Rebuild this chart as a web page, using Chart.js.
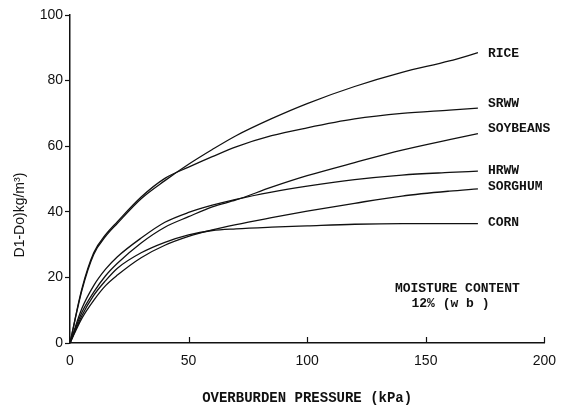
<!DOCTYPE html>
<html>
<head>
<meta charset="utf-8">
<script src="https://cdn.jsdelivr.net/npm/chart.js@4.4.1/dist/chart.umd.min.js"></script>
<style>
  html, body { margin: 0; padding: 0; background: #ffffff; }
  #wrap { width: 566px; height: 407px; position: relative; }
</style>
</head>
<body>
<div id="wrap"><canvas id="c" width="566" height="407"></canvas></div>
<script>
// ---- data ----
const pressure = [0, 5, 10, 15, 20, 30, 40, 50, 60, 70, 85, 100, 120, 140, 160, 172];
const rice     = [0, 16, 27, 32.5, 36.5, 44, 49.5, 54.5, 59, 63.2, 68.4, 73, 78.2, 82.5, 86, 88.5];
const srww     = [0, 16.5, 27.5, 33, 37, 44.5, 50.2, 53.6, 56.8, 59.8, 63.2, 65.6, 68.3, 70, 71, 71.6];
const soybeans = [0, 9.3, 15.5, 20.5, 24.3, 30.5, 35.3, 38.5, 41.5, 43.6, 47.5, 51, 55, 58.8, 62, 63.8];
const hrww     = [0, 10.5, 17.5, 22.5, 26.3, 32, 36.8, 39.8, 42, 43.8, 46, 47.8, 49.8, 51.2, 52, 52.4];
const sorghum  = [0, 7.5, 13, 17.5, 20.7, 26, 29.8, 32.5, 34.5, 36.1, 38.2, 40.2, 42.6, 44.8, 46.3, 47];
const corn     = [0, 8.3, 14.5, 19, 22.8, 27.5, 30.7, 33, 34.3, 34.8, 35.3, 35.7, 36.2, 36.4, 36.4, 36.4];
const seriesNames = ['RICE', 'SRWW', 'SOYBEANS', 'HRWW', 'SORGHUM', 'CORN'];
const seriesValues = [rice, srww, soybeans, hrww, sorghum, corn];
const xTicks = [0, 50, 100, 150, 200];
const yTicks = [0, 20, 40, 60, 80, 100];
const xTitle = 'OVERBURDEN PRESSURE (kPa)';
const yTitle = 'D1-Do)kg/m\u00B3)';
const noteLines = ['MOISTURE CONTENT', '12% (w b )'];

// ---- styling ----
const INK = '#111111';
const MONO = '"Liberation Mono", "DejaVu Sans Mono", monospace';
const SANS = '"Liberation Sans", Arial, sans-serif';
const labelDy = [1, -4, -5, 0, -2, -1];

const datasets = seriesValues.map((vals, i) => ({
  label: seriesNames[i],
  data: pressure.map((p, j) => ({ x: p, y: vals[j] })),
  borderColor: INK,
  borderWidth: 1.3,
  pointRadius: 0,
  fill: false,
  cubicInterpolationMode: 'monotone'
}));

const decor = {
  id: 'decor',
  afterDraw(chart) {
    const ctx = chart.ctx;
    const xs = chart.scales.x, ys = chart.scales.y;
    const area = chart.chartArea;
    ctx.save();
    // inward x ticks
    ctx.strokeStyle = INK;
    ctx.lineWidth = 1.2;
    xTicks.forEach(v => {
      if (v === 0) return;
      const px = Math.round(xs.getPixelForValue(v)) + 0.5;
      ctx.beginPath();
      ctx.moveTo(px, area.bottom);
      ctx.lineTo(px, area.bottom - 6);
      ctx.stroke();
    });
    // series labels at line ends
    ctx.fillStyle = INK;
    ctx.font = 'bold 13px ' + MONO;
    ctx.textBaseline = 'middle';
    ctx.textAlign = 'left';
    chart.data.datasets.forEach((ds, i) => {
      const meta = chart.getDatasetMeta(i);
      const last = meta.data[meta.data.length - 1];
      ctx.fillText(ds.label, last.x + 10, last.y + labelDy[i]);
    });
    // note
    ctx.fillText(noteLines[0], xs.getPixelForValue(137), ys.getPixelForValue(16.5));
    ctx.fillText(noteLines[1], xs.getPixelForValue(144), ys.getPixelForValue(12));
    // y title
    ctx.font = '14px ' + SANS;
    ctx.textAlign = 'center';
    ctx.translate(20, ys.getPixelForValue(39));
    ctx.rotate(-Math.PI / 2);
    ctx.fillText(yTitle, 0, 0);
    ctx.restore();
  }
};

new Chart(document.getElementById('c'), {
  type: 'line',
  data: { datasets },
  options: {
    responsive: false,
    animation: false,
    devicePixelRatio: 1,
    layout: { padding: { left: 0, right: 14, top: 15, bottom: 0 } },
    plugins: { legend: { display: false }, tooltip: { enabled: false } },
    scales: {
      x: {
        type: 'linear',
        min: 0, max: 200,
        afterBuildTicks(s) { s.ticks = xTicks.map(v => ({ value: v })); },
        afterFit(s) { s.height = 64; },
        border: { display: true, color: INK, width: 1.5 },
        grid: { display: true, drawOnChartArea: false, drawTicks: false },
        ticks: { color: INK, padding: 10, font: { family: SANS, size: 14 }, maxRotation: 0 },
        title: { display: true, text: xTitle, color: INK, font: { family: MONO, size: 14, weight: 'bold' }, padding: { top: 19, bottom: 0 } }
      },
      y: {
        type: 'linear',
        min: 0, max: 100,
        afterBuildTicks(s) { s.ticks = yTicks.map(v => ({ value: v })); },
        afterFit(s) { s.width = 70; },
        border: { display: true, color: INK, width: 1.5 },
        grid: { display: true, drawOnChartArea: false, drawTicks: true, tickLength: 5, color: INK, tickWidth: 1.2 },
        ticks: { color: INK, padding: 2, font: { family: SANS, size: 14 } }
      }
    }
  },
  plugins: [decor]
});
</script>
</body>
</html>
